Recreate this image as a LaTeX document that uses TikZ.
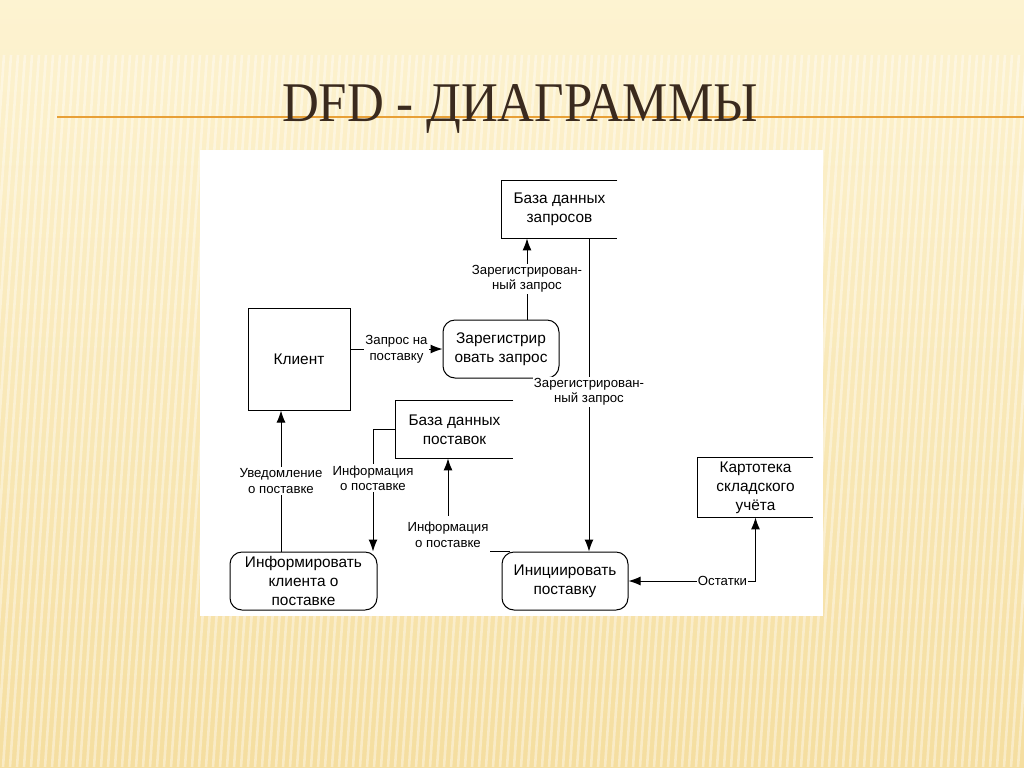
\documentclass[tikz,border=0pt]{standalone}
\usepackage{fontspec}
\setmainfont{Liberation Sans}
\newfontfamily\titlefont{Liberation Serif}
\usetikzlibrary{arrows.meta,positioning}
\definecolor{bgtop}{RGB}{253,243,209}
\definecolor{bgbottom}{RGB}{245,222,160}
\definecolor{titlebrown}{RGB}{58,42,30}
\definecolor{ruleorange}{RGB}{232,160,55}
\tikzset{
  wire/.style={black,line width=0.5pt},
  flow/.style={wire,-{Latex[length=6pt,width=4.5pt]}},
  flowboth/.style={wire,{Latex[length=6pt,width=4.5pt]}-{Latex[length=6pt,width=4.5pt]}},
  boxtext/.style={align=center,inner sep=1pt,font=\fontsize{7.7}{9.6}\selectfont},
  entity/.style={boxtext,draw=black,line width=0.5pt,minimum width=51pt,minimum height=51pt},
  process/.style={boxtext,draw=black,line width=0.5pt,rounded corners=6pt,minimum height=29pt},
  store/.style={boxtext,minimum height=28.5pt},
  lab/.style={fill=white,inner sep=0.6pt,align=center,font=\fontsize{6.6}{7.8}\selectfont},
  stripe/.style={white,opacity=0.4,line width=1.3pt},
}

\begin{document}
\begin{tikzpicture}[x=0.5pt,y=-0.5pt]
  \path[use as bounding box] (0,0) rectangle (1024,767);
  \shade[top color=bgtop,bottom color=bgbottom] (0,0) rectangle (1024,767);
  \foreach \x in {-60,-53,...,1024}
    \draw[stripe] (\x,767) -- (\x+50,55);

  \draw[ruleorange,line width=1pt] (57,117) -- (1024,117);
  \node[anchor=base,text=titlebrown,xscale=0.91,font=\titlefont\fontsize{28}{30}\selectfont]
    (title) at (520,121) {DFD - ДИАГРАММЫ};

  \fill[white] (200,150) rectangle (823,616);

  \node[entity] (klient) at (299,359) {Клиент};
  \node[process,minimum width=58pt] (zareg) at (501,349) {Зарегистрир\\овать запрос};
  \node[store,minimum width=57.5pt] (bdzap) at (559.5,209.5) {База данных\\запросов};
  \node[store,minimum width=58.5pt] (bdpost) at (454.5,429.5) {База данных\\поставок};
  \node[store,minimum width=57.5pt,minimum height=29.5pt] (kart) at (755.5,487.5)
    {Картотека\\складского\\учёта};
  \node[process,minimum width=73.5pt] (inform) at (303.5,581) {Информировать\\клиента о\\поставке};
  \node[process,minimum width=63pt] (init) at (565,581) {Инициировать\\поставку};

  \foreach \s in {bdzap,bdpost,kart}
    \draw[wire] (\s.north east) -- (\s.north west) -- (\s.south west) -- (\s.south east);

  \draw[flow] (zareg.west -| klient.east) -- (zareg.west)
    node[lab,midway] {Запрос на\\поставку};
  \draw[flow] ([xshift=13pt]zareg.north) -- ([xshift=13pt]zareg.north |- bdzap.south)
    node[lab,midway] {Зарегистрирован-\\ный запрос};
  \draw[flow] ([xshift=12pt]init.north |- bdzap.south) -- ([xshift=12pt]init.north)
    node[lab,pos=0.49] {Зарегистрирован-\\ный запрос};
  \draw[flow] ([xshift=-9pt]klient.south |- inform.north) -- ([xshift=-9pt]klient.south)
    node[lab,midway] {Уведомление\\о поставке};
  \draw[flow] (bdpost.west) -| ([xshift=34.75pt]inform.north)
    node[lab,pos=0.7] {Информация\\о поставке};
  \draw[flow] ([xshift=-27.5pt]init.north) -| ([xshift=-3.25pt]bdpost.south)
    node[lab,pos=0.5,yshift=8.5pt,inner ysep=3pt] {Информация\\о поставке};
  \draw[flowboth] (kart.south) |- (init.east)
    node[lab,pos=0.63] {Остатки};
\end{tikzpicture}
\end{document}
